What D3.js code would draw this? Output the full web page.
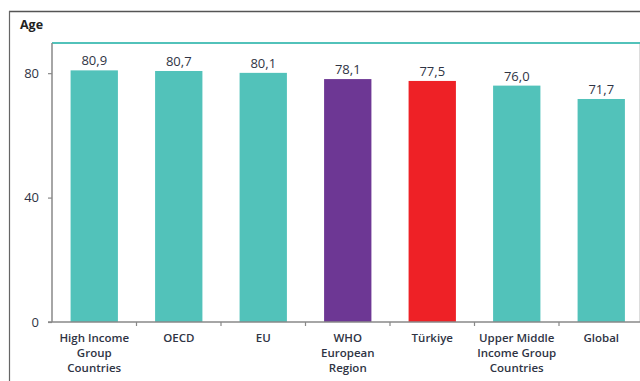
<!DOCTYPE html>
<html>
<head>
<meta charset="utf-8">
<script src="https://cdn.jsdelivr.net/npm/d3@7"></script>
<style>
  html, body { margin: 0; padding: 0; background: #fff; }
  svg { display: block; }
  text { font-family: "Open Sans", "Noto Sans", sans-serif; }
</style>
</head>
<body>
<svg id="chart" width="640" height="381"></svg>
<script>
// Life expectancy at birth by region / country group
const categories = [
  ["High Income", "Group", "Countries"],
  ["OECD"],
  ["EU"],
  ["WHO", "European", "Region"],
  ["Türkiye"],
  ["Upper Middle", "Income Group", "Countries"],
  ["Global"]
];
const values = [80.9, 80.7, 80.1, 78.1, 77.5, 76.0, 71.7];
const valueLabels = ["80,9", "80,7", "80,1", "78,1", "77,5", "76,0", "71,7"];
const barColors = ["#52c2ba", "#52c2ba", "#52c2ba", "#6d3794", "#ee2126", "#52c2ba", "#52c2ba"];
const yTicks = [0, 40, 80];
const yTitle = "Age";

const svg = d3.select("#chart");
const textColor = "#2f3444";

const plotLeft = 52, plotTop = 43, plotBottom = 322;
const step = 84.5;

const x = d3.scaleBand()
  .domain(d3.range(values.length))
  .range([plotLeft, plotLeft + step * values.length])
  .paddingInner(0.44)
  .paddingOuter(0.22);

const xBound = d3.scaleBand()
  .domain(d3.range(values.length))
  .range([plotLeft, plotLeft + step * values.length]);

const y = d3.scaleLinear().domain([0, 89.7]).range([plotBottom, plotTop]);

// outer frame
svg.append("line").attr("x1", 9).attr("x2", 640).attr("y1", 11.5).attr("y2", 11.5)
  .attr("stroke", "#555").attr("stroke-width", 1.5);
svg.append("line").attr("x1", 9.5).attr("x2", 9.5).attr("y1", 11).attr("y2", 381)
  .attr("stroke", "#666").attr("stroke-width", 1.2);

// teal top rule of plot area
svg.append("line").attr("x1", plotLeft).attr("x2", 640).attr("y1", plotTop).attr("y2", plotTop)
  .attr("stroke", "#52c2ba").attr("stroke-width", 2.2);
// faint right edge
svg.append("line").attr("x1", 639.5).attr("x2", 639.5).attr("y1", plotTop + 1).attr("y2", plotBottom)
  .attr("stroke", "#ddd").attr("stroke-width", 1);

// axis title
svg.append("text").attr("x", 20).attr("y", 29)
  .attr("font-size", 12.5).attr("font-weight", 700).attr("fill", "#222")
  .text(yTitle);

// bars
svg.selectAll("rect.bar").data(values).join("rect")
  .attr("class", "bar")
  .attr("x", (d, i) => x(i))
  .attr("width", x.bandwidth())
  .attr("y", d => y(d))
  .attr("height", d => y(0) - y(d))
  .attr("fill", (d, i) => barColors[i]);

// value labels
svg.selectAll("text.val").data(values).join("text")
  .attr("class", "val")
  .attr("x", (d, i) => x(i) + x.bandwidth() / 2)
  .attr("y", d => y(d) - 5)
  .attr("text-anchor", "middle")
  .attr("font-size", 13)
  .attr("fill", textColor)
  .text((d, i) => valueLabels[i]);

// y axis
const yAxis = d3.axisLeft(y).tickValues(yTicks).tickSize(4).tickPadding(9);
const gy = svg.append("g").attr("transform", `translate(${plotLeft},0)`).call(yAxis);
gy.select(".domain").attr("stroke", "#888").attr("stroke-width", 1.5)
  .attr("d", `M0,${plotTop}V${plotBottom}`);
gy.selectAll(".tick line").attr("stroke", "#888").attr("stroke-width", 1.2);
gy.selectAll(".tick text").attr("font-size", 13).attr("fill", textColor)
  .attr("font-family", "'Open Sans', sans-serif");

// x axis with ticks at category boundaries
const bounds = d3.range(1, values.length).map(i => xBound(i));
svg.append("line").attr("x1", plotLeft - 4).attr("x2", 640).attr("y1", plotBottom).attr("y2", plotBottom)
  .attr("stroke", "#888").attr("stroke-width", 1.5);
svg.selectAll("line.xt").data(bounds).join("line")
  .attr("class", "xt")
  .attr("x1", d => d).attr("x2", d => d)
  .attr("y1", plotBottom).attr("y2", plotBottom + 4)
  .attr("stroke", "#888").attr("stroke-width", 1.2);

// category labels
const catG = svg.selectAll("text.cat").data(categories).join("text")
  .attr("class", "cat")
  .attr("text-anchor", "middle")
  .attr("font-size", 11.5)
  .attr("font-weight", 600)
  .attr("fill", textColor);
catG.selectAll("tspan").data((d, i) => d.map(s => ({ s, i }))).join("tspan")
  .attr("x", d => x(d.i) + x.bandwidth() / 2)
  .attr("y", (d, j) => 342 + j * 15)
  .text(d => d.s);
</script>
</body>
</html>
